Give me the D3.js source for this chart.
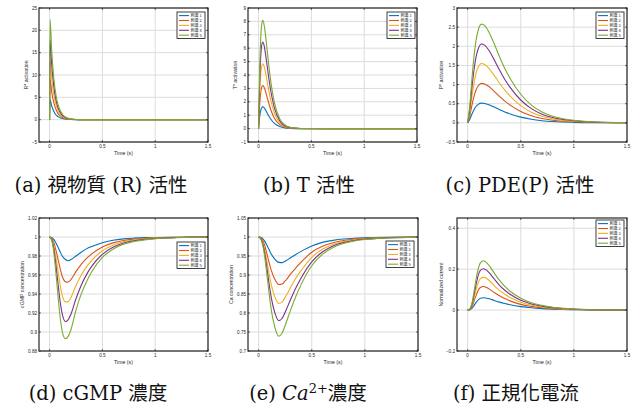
<!DOCTYPE html>
<html>
<head>
<meta charset="utf-8">
<script src="https://cdn.jsdelivr.net/npm/d3@7/dist/d3.min.js"></script>
<style>
  body { margin: 0; background: #fff; }
  svg { display: block; }
  .tick-label { font-family: "Liberation Sans", sans-serif; font-size: 4.6px; fill: #262626; }
  .axis-label { font-family: "Liberation Sans", sans-serif; font-size: 5.2px; fill: #262626; }
  .legend-label { font-family: "Noto Sans CJK TC", sans-serif; font-size: 4px; fill: #262626; }
  .caption { font-family: "DejaVu Serif", "Noto Sans CJK TC", serif; font-size: 19.5px; fill: #111; }
</style>
</head>
<body>
<svg id="chart"></svg>
<script>
// series colours (MATLAB default order) and legend names
const colors = ['#0072BD', '#D95319', '#EDB120', '#7E2F8E', '#77AC30'];
const seriesNames = ['刺激 1', '刺激 2', '刺激 3', '刺激 4', '刺激 5'];
const xTicks = [0, 0.5, 1, 1.5];

// (a) R* activation
const tR = [0, 0.005, 0.02, 0.04, 0.06, 0.08, 0.1, 0.13, 0.16, 0.2, 0.25, 0.3, 0.5, 1.0, 1.5];
const rAct = [
  [0, 4.5, 3.1, 1.9, 1.1, 0.68, 0.42, 0.2, 0.09, 0.03, 0.01, 0, 0, 0, 0],
  [0, 9.0, 6.2, 3.8, 2.3, 1.35, 0.84, 0.4, 0.19, 0.07, 0.02, 0, 0, 0, 0],
  [0, 13.4, 9.2, 5.6, 3.4, 2.0, 1.25, 0.59, 0.28, 0.1, 0.03, 0, 0, 0, 0],
  [0, 17.9, 12.4, 7.5, 4.5, 2.7, 1.66, 0.79, 0.38, 0.14, 0.04, 0, 0, 0, 0],
  [0, 22.4, 15.5, 9.4, 5.6, 3.4, 2.1, 0.99, 0.47, 0.17, 0.05, 0, 0, 0, 0]
];
const rTicks = [-5, 0, 5, 10, 15, 20, 25];

// (b) T* activation
const tT = [0, 0.01, 0.02, 0.03, 0.04, 0.05, 0.06, 0.08, 0.1, 0.12, 0.15, 0.2, 0.25, 0.3, 0.4, 0.6, 1.0, 1.5];
const tAct = [
  [0, 0.86, 1.33, 1.56, 1.62, 1.58, 1.47, 1.19, 0.9, 0.66, 0.39, 0.15, 0.05, 0.02, 0, 0, 0, 0],
  [0, 1.70, 2.65, 3.10, 3.22, 3.13, 2.93, 2.37, 1.80, 1.31, 0.77, 0.30, 0.11, 0.04, 0, 0, 0, 0],
  [0, 2.56, 3.99, 4.66, 4.84, 4.71, 4.40, 3.56, 2.70, 1.97, 1.16, 0.45, 0.16, 0.05, 0.01, 0, 0, 0],
  [0, 3.42, 5.32, 6.22, 6.46, 6.29, 5.88, 4.75, 3.60, 2.62, 1.55, 0.59, 0.21, 0.07, 0.01, 0, 0, 0],
  [0, 4.27, 6.66, 7.78, 8.08, 7.86, 7.35, 5.95, 4.51, 3.28, 1.94, 0.74, 0.27, 0.09, 0.01, 0, 0, 0]
];
const tTicks = [-1, 0, 1, 2, 3, 4, 5, 6, 7, 8, 9];

// (c) P* activation
const tP = [0, 0.02, 0.04, 0.06, 0.08, 0.1, 0.13, 0.16, 0.2, 0.25, 0.3, 0.35, 0.4, 0.5, 0.6, 0.7, 0.8, 0.9, 1.0, 1.2, 1.5];
const pAct = [
  [0, 0.088, 0.227, 0.345, 0.433, 0.484, 0.515, 0.507, 0.474, 0.412, 0.345, 0.283, 0.232, 0.149, 0.093, 0.057, 0.035, 0.022, 0.013, 0.005, 0.001],
  [0, 0.175, 0.453, 0.69, 0.865, 0.968, 1.03, 1.015, 0.948, 0.824, 0.69, 0.567, 0.464, 0.299, 0.185, 0.113, 0.07, 0.043, 0.027, 0.009, 0.002],
  [0, 0.264, 0.682, 1.039, 1.302, 1.457, 1.55, 1.527, 1.426, 1.24, 1.039, 0.853, 0.698, 0.45, 0.279, 0.171, 0.105, 0.065, 0.04, 0.014, 0.003],
  [0, 0.35, 0.906, 1.38, 1.73, 1.936, 2.06, 2.029, 1.895, 1.648, 1.38, 1.133, 0.927, 0.597, 0.371, 0.227, 0.14, 0.087, 0.054, 0.019, 0.004],
  [0, 0.439, 1.135, 1.729, 2.167, 2.425, 2.58, 2.541, 2.374, 2.064, 1.729, 1.419, 1.161, 0.748, 0.464, 0.284, 0.175, 0.108, 0.067, 0.023, 0.005]
];
const pTicks = [-0.5, 0, 0.5, 1, 1.5, 2, 2.5, 3];

// (d) cGMP concentration
const tG = [0, 0.02, 0.04, 0.06, 0.08, 0.1, 0.12, 0.15, 0.175, 0.2, 0.25, 0.3, 0.35, 0.4, 0.5, 0.6, 0.7, 0.8, 0.9, 1.0, 1.2, 1.5];
const cgmp = [
  [1, 0.9995, 0.9975, 0.9938, 0.9893, 0.9845, 0.98, 0.9763, 0.975, 0.976, 0.98, 0.984, 0.9875, 0.99, 0.994, 0.9965, 0.998, 0.9988, 0.9993, 0.9995, 0.9998, 1],
  [1, 0.9988, 0.9942, 0.9861, 0.9765, 0.9669, 0.9587, 0.953, 0.9525, 0.9549, 0.9635, 0.9712, 0.9774, 0.9822, 0.9894, 0.9938, 0.9964, 0.9977, 0.9986, 0.9991, 0.9997, 1],
  [1, 0.9981, 0.991, 0.9786, 0.9641, 0.9496, 0.9386, 0.9317, 0.932, 0.9358, 0.9489, 0.96, 0.9686, 0.9755, 0.9855, 0.9914, 0.995, 0.9968, 0.998, 0.9988, 0.9995, 1],
  [1, 0.9973, 0.9875, 0.9706, 0.951, 0.9324, 0.919, 0.911, 0.9128, 0.9181, 0.935, 0.9493, 0.9604, 0.9693, 0.9818, 0.9891, 0.9937, 0.996, 0.9975, 0.9984, 0.9994, 1],
  [1, 0.9968, 0.984, 0.9625, 0.938, 0.9155, 0.9005, 0.893, 0.8951, 0.9016, 0.923, 0.9401, 0.9529, 0.9636, 0.9786, 0.9872, 0.9925, 0.9952, 0.997, 0.9981, 0.9993, 1]
];
const gTicks = [0.88, 0.9, 0.92, 0.94, 0.96, 0.98, 1, 1.02];

// (e) Ca concentration
const tC = [0, 0.02, 0.04, 0.06, 0.08, 0.1, 0.12, 0.15, 0.19, 0.22, 0.26, 0.3, 0.35, 0.4, 0.5, 0.6, 0.7, 0.8, 0.9, 1.0, 1.2, 1.5];
const calcium = [
  [1, 0.999, 0.9953, 0.9879, 0.977, 0.9656, 0.9548, 0.9426, 0.9332, 0.9325, 0.9379, 0.9453, 0.9541, 0.9622, 0.9764, 0.9858, 0.9912, 0.9946, 0.9966, 0.9978, 0.9991, 0.9998],
  [1, 0.9979, 0.99, 0.975, 0.9538, 0.9313, 0.9113, 0.89, 0.875, 0.8763, 0.8875, 0.9025, 0.9188, 0.9338, 0.96, 0.9756, 0.985, 0.9909, 0.9944, 0.9964, 0.9985, 0.9998],
  [1, 0.9969, 0.9851, 0.9633, 0.9326, 0.9011, 0.8731, 0.8443, 0.825, 0.8285, 0.846, 0.867, 0.8915, 0.9116, 0.9466, 0.9676, 0.9804, 0.9879, 0.9925, 0.9953, 0.9981, 0.9997],
  [1, 0.9958, 0.9806, 0.9527, 0.9138, 0.8742, 0.839, 0.8031, 0.78, 0.7855, 0.8086, 0.835, 0.8658, 0.8922, 0.9347, 0.9604, 0.9762, 0.9853, 0.991, 0.9943, 0.9978, 0.9996],
  [1, 0.9948, 0.9765, 0.9426, 0.8956, 0.8486, 0.8069, 0.7651, 0.739, 0.7468, 0.7755, 0.8069, 0.8434, 0.8747, 0.9243, 0.9543, 0.9726, 0.983, 0.9896, 0.9935, 0.9974, 0.9995]
];
const cTicks = [0.7, 0.75, 0.8, 0.85, 0.9, 0.95, 1, 1.05];

// (f) normalized current
const tI = [0, 0.02, 0.04, 0.06, 0.08, 0.1, 0.12, 0.15, 0.18, 0.21, 0.25, 0.3, 0.35, 0.4, 0.5, 0.6, 0.7, 0.8, 0.9, 1.0, 1.2, 1.5];
const current = [
  [0, 0.001, 0.008, 0.022, 0.038, 0.05, 0.058, 0.06, 0.058, 0.054, 0.047, 0.039, 0.032, 0.026, 0.017, 0.011, 0.007, 0.0045, 0.0028, 0.0018, 0.0006, 0],
  [0, 0.002, 0.015, 0.043, 0.072, 0.097, 0.11, 0.115, 0.11, 0.101, 0.086, 0.07, 0.056, 0.045, 0.028, 0.018, 0.011, 0.007, 0.0043, 0.0027, 0.001, 0],
  [0, 0.003, 0.021, 0.059, 0.101, 0.134, 0.154, 0.16, 0.154, 0.141, 0.12, 0.096, 0.077, 0.061, 0.038, 0.024, 0.015, 0.0096, 0.006, 0.0037, 0.0013, 0.0002],
  [0, 0.004, 0.026, 0.075, 0.127, 0.17, 0.194, 0.202, 0.194, 0.178, 0.152, 0.121, 0.097, 0.077, 0.048, 0.03, 0.019, 0.012, 0.0075, 0.0046, 0.0016, 0.0002],
  [0, 0.005, 0.031, 0.089, 0.152, 0.202, 0.231, 0.241, 0.231, 0.212, 0.181, 0.145, 0.116, 0.092, 0.058, 0.036, 0.023, 0.014, 0.0089, 0.0055, 0.0019, 0.0002]
];
const iTicks = [-0.2, 0, 0.2, 0.4];

const W = 635, H = 415;
const svg = d3.select('#chart').attr('width', W).attr('height', H);

// one entry per subplot: data refs + where its axes box sits
const panels = [
  { t: tR, ys: rAct, yDomain: [-5, 25], yTicks: rTicks, yLabel: 'R* activation', box: [39, 8, 208, 142], yLabX: 28, legend: [177, 12] },
  { t: tT, ys: tAct, yDomain: [-1, 9], yTicks: tTicks, yLabel: 'T* activation', box: [248, 8, 417, 142], yLabX: 237, legend: [387, 12] },
  { t: tP, ys: pAct, yDomain: [-0.5, 3], yTicks: pTicks, yLabel: 'P* activation', box: [457, 8, 627, 142], yLabX: 443, legend: [596, 12] },
  { t: tG, ys: cgmp, yDomain: [0.88, 1.02], yTicks: gTicks, yLabel: 'cGMP concentration', box: [39, 218, 208, 351], yLabX: 24, legend: [177, 242] },
  { t: tC, ys: calcium, yDomain: [0.7, 1.05], yTicks: cTicks, yLabel: 'Ca concentration', box: [248, 218, 418, 351], yLabX: 233, legend: [386, 241] },
  { t: tI, ys: current, yDomain: [-0.2, 0.45], yTicks: iTicks, yLabel: 'Normalized current', box: [457, 218, 627, 351], yLabX: 443, legend: [596, 220] }
];

panels.forEach((p, pi) => {
  const [x0, y0, x1, y1] = p.box;
  const xScale = d3.scaleLinear().domain([-0.1, 1.5]).range([x0, x1]);
  const yScale = d3.scaleLinear().domain(p.yDomain).range([y1, y0]);
  const g = svg.append('g');

  g.append('rect').attr('x', x0).attr('y', y0).attr('width', x1 - x0).attr('height', y1 - y0).attr('fill', '#fff');

  // grid
  g.selectAll('.gx').data(xTicks).join('line')
    .attr('x1', d => xScale(d)).attr('x2', d => xScale(d))
    .attr('y1', y0).attr('y2', y1)
    .attr('stroke', '#dcdcdc').attr('stroke-width', 1);
  g.selectAll('.gy').data(p.yTicks).join('line')
    .attr('x1', x0).attr('x2', x1)
    .attr('y1', d => yScale(d)).attr('y2', d => yScale(d))
    .attr('stroke', '#dcdcdc').attr('stroke-width', 1);

  // curves
  const clipId = 'clip' + pi;
  svg.append('clipPath').attr('id', clipId).append('rect')
    .attr('x', x0).attr('y', y0).attr('width', x1 - x0).attr('height', y1 - y0);
  const line = d3.line()
    .x((d, i) => xScale(p.t[i]))
    .y(d => yScale(d))
    .curve(d3.curveMonotoneX);
  g.append('g').attr('clip-path', `url(#${clipId})`)
    .selectAll('path').data(p.ys).join('path')
    .attr('d', d => line(d))
    .attr('fill', 'none')
    .attr('stroke', (d, i) => colors[i])
    .attr('stroke-width', 1.1);

  // box
  g.append('rect').attr('x', x0).attr('y', y0).attr('width', x1 - x0).attr('height', y1 - y0)
    .attr('fill', 'none').attr('stroke', '#262626').attr('stroke-width', 1.2);

  // inward ticks on all four sides
  const tk = 1.8;
  xTicks.forEach(d => {
    const x = xScale(d);
    g.append('line').attr('x1', x).attr('x2', x).attr('y1', y1).attr('y2', y1 - tk).attr('stroke', '#262626').attr('stroke-width', 0.8);
    g.append('line').attr('x1', x).attr('x2', x).attr('y1', y0).attr('y2', y0 + tk).attr('stroke', '#262626').attr('stroke-width', 0.8);
  });
  p.yTicks.forEach(d => {
    const y = yScale(d);
    g.append('line').attr('x1', x0).attr('x2', x0 + tk).attr('y1', y).attr('y2', y).attr('stroke', '#262626').attr('stroke-width', 0.8);
    g.append('line').attr('x1', x1).attr('x2', x1 - tk).attr('y1', y).attr('y2', y).attr('stroke', '#262626').attr('stroke-width', 0.8);
  });

  // tick labels
  g.selectAll('.xl').data(xTicks).join('text')
    .attr('class', 'tick-label')
    .attr('x', d => xScale(d)).attr('y', y1 + 6)
    .attr('text-anchor', 'middle')
    .text(d => d3.format('~g')(d));
  g.selectAll('.yl').data(p.yTicks).join('text')
    .attr('class', 'tick-label')
    .attr('x', x0 - 2).attr('y', d => yScale(d) + 1.6)
    .attr('text-anchor', 'end')
    .text(d => d3.format('~g')(d));

  // axis labels
  g.append('text').attr('class', 'axis-label')
    .attr('x', (x0 + x1) / 2).attr('y', y1 + 13)
    .attr('text-anchor', 'middle')
    .text('Time (s)');
  g.append('text').attr('class', 'axis-label')
    .attr('transform', `translate(${p.yLabX},${(y0 + y1) / 2}) rotate(-90)`)
    .attr('text-anchor', 'middle')
    .text(p.yLabel);

  // legend
  const [lx, ly] = p.legend;
  const lg = g.append('g');
  lg.append('rect').attr('x', lx).attr('y', ly).attr('width', 28).attr('height', 26.5)
    .attr('fill', '#fff').attr('stroke', '#111').attr('stroke-width', 0.8);
  seriesNames.forEach((name, i) => {
    const yy = ly + 3.6 + i * 4.9;
    lg.append('line').attr('x1', lx + 2).attr('x2', lx + 12).attr('y1', yy).attr('y2', yy)
      .attr('stroke', colors[i]).attr('stroke-width', 1.1);
    lg.append('text').attr('class', 'legend-label')
      .attr('x', lx + 13.5).attr('y', yy + 1.4)
      .text(name);
  });
});

// captions
const captions = [
  { x: 101, y: 192 }, { x: 309, y: 192 }, { x: 520, y: 192 },
  { x: 98, y: 400 }, { x: 308, y: 400 }, { x: 516, y: 400 }
];
const capText = ['(a) 視物質 (R) 活性', '(b) T 活性', '(c) PDE(P) 活性', '(d) cGMP 濃度', null, '(f) 正規化電流'];
captions.forEach((c, i) => {
  const t = svg.append('text').attr('class', 'caption')
    .attr('x', c.x).attr('y', c.y).attr('text-anchor', 'middle');
  if (capText[i]) {
    t.text(capText[i]);
  } else {
    t.append('tspan').text('(e) ');
    t.append('tspan').attr('font-style', 'italic').text('Ca');
    t.append('tspan').attr('font-size', '13px').attr('dy', -7.5).text('2+');
    t.append('tspan').attr('dy', 7.5).text('濃度');
  }
});
</script>
</body>
</html>
